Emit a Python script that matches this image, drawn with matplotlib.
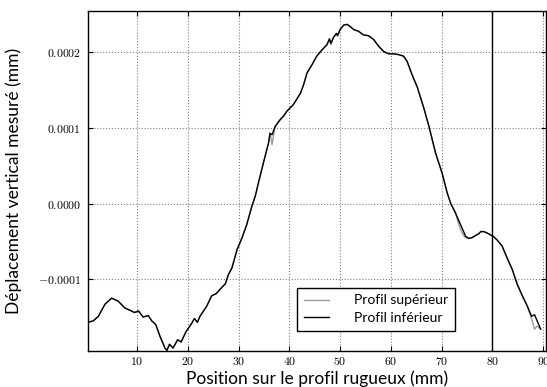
"""
Profils de déplacement vertical mesurés le long de l'éprouvette rugueuse
"""

import matplotlib
matplotlib.use("Agg")
import matplotlib.pyplot as plt
from matplotlib.ticker import FuncFormatter, MultipleLocator

plt.rcParams['mathtext.fontset'] = 'cm'

# Positions le long du profil (mm)
POSITION = [0.35, 1.4, 2.4, 3.7, 5.0, 6.3, 7.6, 8.6, 9.5, 10.3,
            11.2, 12.2, 12.9, 13.7, 14.5, 15.5, 15.9, 16.4, 17.1, 18.0,
            18.7, 19.6, 20.8, 21.3, 21.9, 22.4, 23.7, 24.7, 25.6, 26.4,
            27.4, 28.0, 28.7, 29.7, 30.7, 31.6, 32.6, 33.3, 33.9, 34.9,
            35.9, 36.2, 36.6, 37.2, 38.2, 38.9, 39.5, 40.8, 42.2, 42.8,
            43.5, 44.5, 45.4, 46.4, 47.4, 47.9, 48.2, 48.7, 49.3, 49.5,
            50.0, 50.7, 51.4, 52.0, 52.7, 53.6, 54.6, 55.6, 56.6, 57.6,
            58.6, 59.6, 60.6, 61.5, 62.5, 63.2, 64.2, 65.2, 66.5, 67.5,
            68.8, 70.1, 71.1, 71.8, 72.7, 73.4, 74.0, 74.7, 75.3, 76.0,
            76.7, 77.3, 77.7, 78.3, 79.3, 80.3, 80.9, 81.9, 82.9, 83.9,
            84.9, 85.9, 86.9, 87.7, 88.3, 88.8, 89.5]

# Déplacements mesurés (1e-5 mm)
INFERIEUR = [-15.7, -15.5, -14.9, -13.3, -12.5, -12.9, -13.8, -14.1, -14.4, -14.2,
             -15.0, -14.8, -15.5, -16.0, -17.5, -19.1, -19.4, -18.6, -19.1, -18.0,
             -18.3, -17.0, -15.8, -15.2, -15.7, -14.9, -13.6, -12.2, -11.9, -11.3,
             -10.6, -9.4, -8.5, -6.1, -4.5, -2.8, -0.4, 1.0, 2.7, 5.4,
             8.0, 9.3, 9.1, 10.2, 11.1, 11.6, 12.2, 13.1, 14.6, 15.7,
             17.3, 18.4, 19.5, 20.3, 21.0, 21.8, 21.2, 22.0, 22.5, 22.2,
             23.0, 23.6, 23.7, 23.4, 23.0, 22.8, 22.3, 22.2, 21.7, 20.8,
             20.1, 19.8, 19.8, 19.7, 19.5, 18.8, 17.0, 15.4, 12.6, 10.2,
             6.7, 4.0, 1.4, 0.0, -1.2, -2.3, -3.2, -4.3, -4.6, -4.5,
             -4.2, -4.0, -3.7, -3.7, -4.0, -4.4, -4.8, -5.6, -7.2, -8.7,
             -10.7, -12.2, -13.6, -14.9, -14.7, -15.5, -16.6]

SUPERIEUR = [-15.7, -15.5, -14.9, -13.3, -12.5, -12.9, -13.8, -14.1, -14.4, -14.2,
             -15.0, -14.8, -15.5, -16.0, -17.5, -19.1, -19.4, -18.6, -19.1, -18.0,
             -18.3, -17.0, -15.8, -15.2, -15.7, -14.9, -13.6, -12.2, -11.9, -11.3,
             -10.6, -9.4, -8.5, -6.1, -4.5, -2.8, -0.4, 1.0, 2.7, 5.4,
             8.0, 9.3, 7.8, 10.2, 11.1, 11.6, 12.2, 13.1, 14.6, 15.7,
             17.3, 18.4, 19.5, 20.3, 21.0, 21.6, 21.0, 22.0, 22.5, 22.2,
             23.0, 23.6, 23.7, 23.4, 23.0, 22.8, 22.3, 22.2, 21.7, 20.8,
             20.1, 19.8, 19.8, 19.7, 19.5, 18.8, 17.0, 15.4, 12.6, 10.2,
             6.7, 4.0, 1.4, 0.0, -1.2, -2.8, -3.9, -4.5, -4.6, -4.5,
             -4.2, -4.0, -3.7, -3.7, -4.0, -4.4, -4.8, -5.6, -7.2, -8.7,
             -10.7, -12.2, -13.6, -15.2, -16.6, -16.2, -16.6]

X_LIMITE = 80.0


def to_mm(values):
    return [v * 1e-5 for v in values]


fig = plt.figure(figsize=(5.47, 3.87), dpi=100)
ax = fig.add_axes([88 / 547, 36 / 387, 458 / 547, 339.5 / 387])

ax.plot(POSITION, to_mm(SUPERIEUR), color='#9a9a9a', lw=1.0, label=u"Profil supérieur")
ax.plot(POSITION, to_mm(INFERIEUR), color='black', lw=1.0, label=u"Profil inférieur")
ax.axvline(X_LIMITE, color='black', lw=1.0)

ax.set_xlim(0.35, 90.55)
ax.set_ylim(-0.0001949, 0.000254)
ax.xaxis.set_major_locator(MultipleLocator(10))
ax.yaxis.set_major_locator(MultipleLocator(0.0001))
ax.xaxis.set_major_formatter(FuncFormatter(lambda v, p: r'$%d$' % v))
ax.yaxis.set_major_formatter(FuncFormatter(lambda v, p: r'$%.4f$' % v))
ax.tick_params(direction='in', top=True, right=True, labelsize=8.5)
ax.tick_params(axis='x', pad=3)
ax.tick_params(axis='y', pad=5)
ax.grid(True, color='0.5', linestyle=':', lw=0.8)
for s in ax.spines.values():
    s.set_linewidth(1.0)

ax.set_xlabel(u"Position sur le profil rugueux (mm)", fontsize=12.5, family='Lato')
ax.xaxis.set_label_coords(0.5, -0.058)
ax.set_ylabel(u"Déplacement vertical mesuré (mm)", fontsize=12.5, family='Lato')
ax.yaxis.set_label_coords(-0.145, 0.5)

leg = ax.legend(loc='lower left', bbox_to_anchor=(0.456, 0.059), borderaxespad=0,
                fancybox=False, edgecolor='black', framealpha=1,
                prop={'family': 'Lato', 'size': 10}, handlelength=1.8,
                handletextpad=1.8, borderpad=0.5, labelspacing=0.4)
leg.get_frame().set_linewidth(1.0)

fig.savefig('out.png', dpi=100)
